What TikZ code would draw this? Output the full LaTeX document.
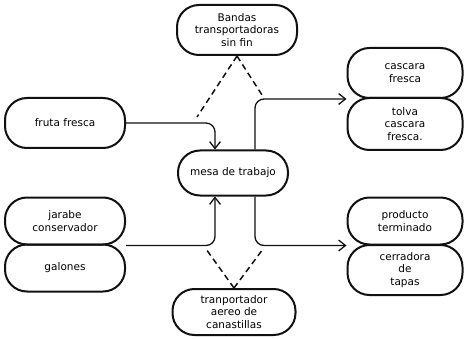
\documentclass[tikz,border=0pt]{standalone}
\usepackage{fontspec}
\setmainfont{DejaVu Sans}
\usetikzlibrary{arrows.meta}
\definecolor{tinta}{HTML}{111111}

\begin{document}
\begin{tikzpicture}[x=1pt, y=-1pt, font=\fontsize{10.5}{12.5}\selectfont,
    every node/.style={align=center},
    caja/.style={draw=tinta, line width=2pt, rounded corners=22pt, inner sep=1pt},
    flujo/.style={tinta, line width=1.3pt, rounded corners=9pt, -{Straight Barb[length=2.4mm,width=3.8mm]}},
    apoyo/.style={tinta, line width=1.5pt, dash pattern=on 6pt off 4pt}]
    \useasboundingbox (0,0) rectangle (468,339);
    \foreach \n/\x/\y/\w/\h/\t in {
        bandas/237/30/120/50/Bandas\\ transportadoras\\ sin fin,
        fruta/65/123/120/50/fruta fresca,
        mesa/233/173/110/45/mesa de trabajo,
        jarabe/65/221/120/47/jarabe\\ conservador,
        galones/65/268/120/47/galones,
        transp/234/312/123/46/tranportador\\ aereo de\\ canastillas,
        cascara/405/73/115/50/cascara\\ fresca,
        tolva/405/124/115/52/tolva\\ cascara\\ fresca.,
        producto/405/221/115/47/producto\\ terminado,
        cerradora/405/270/115/50/cerradora\\ de\\ tapas} {
      \node[caja, minimum width=\w pt, minimum height=\h pt] (\n) at (\x,\y) {\t};
    }
    % entradas y salidas de la mesa
    \draw[flujo] (fruta.east) -| ([xshift=-18pt]mesa.north);
    \draw[flujo] (jarabe.south east) -| ([xshift=-18pt]mesa.south);
    \draw[flujo] ([xshift=22pt]mesa.north) |- (cascara.south west);
    \draw[flujo] ([xshift=22pt]mesa.south) |- (producto.south west);
    % transporte
    \coordinate (bf) at (197,117);
    \coordinate (bc) at (262,95);
    \coordinate (tj) at (206,249);
    \coordinate (tp) at (263,249);
    \draw[apoyo] (bandas.south) -- (bf);
    \draw[apoyo] (bandas.south) -- (bc);
    \draw[apoyo] (transp.north) -- (tj);
    \draw[apoyo] (transp.north) -- (tp);
\end{tikzpicture}
\end{document}
